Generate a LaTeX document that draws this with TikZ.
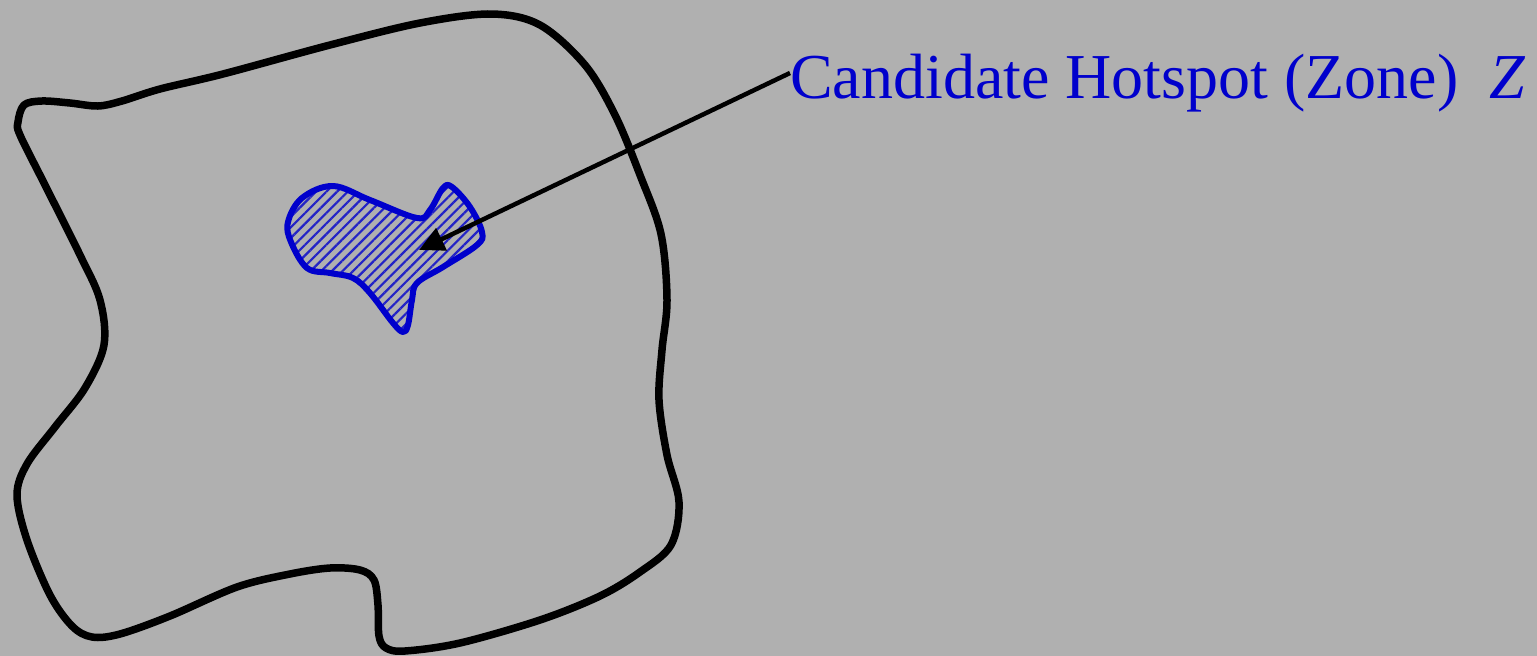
\documentclass[tikz,border=0pt]{standalone}
\usepackage{fontspec}
\setmainfont{Liberation Serif}
\usetikzlibrary{patterns.meta,arrows.meta}
\definecolor{bg}{RGB}{176,176,176}
\definecolor{zblue}{RGB}{0,0,204}
\tikzset{
  region/.style={line width=7.5pt, black, line join=round},
  zone/.style={line width=6pt, zblue, line join=round,
    pattern={Lines[angle=45,distance=7.5pt,line width=2.2pt]}, pattern color=zblue!80!bg},
  pointer/.style={line width=4.5pt, black, -{Triangle[length=25pt,width=24pt]}},
  label/.style={text=zblue, inner sep=0pt, font=\fontsize{64}{76}\selectfont}
}
\begin{document}
\begin{tikzpicture}[x=1pt,y=-1pt]
\fill[bg] (0,0) rectangle (1537,656);
\useasboundingbox (0,0) rectangle (1537,656);
% outer region
\draw[region] plot[smooth cycle, tension=0.55] coordinates {
 (18,122) (24,105) (42,101) (70,103) (98,106) (122,101) (160,89) (223,74) (330,45)
 (420,23) (491,14) (540,25) (585,65) (615,115) (640,175) (661,234) (667,300)
 (662,350) (659,400) (667,455) (679,502) (671,545) (640,572) (600,596) (540,620)
 (460,643) (405,651) (386,648) (379,636) (378,605) (374,580) (360,570) (330,568)
 (290,574) (237,587) (170,616) (120,634) (92,637) (72,626) (50,595) (27,540)
 (17,495) (27,464) (55,427) (85,388) (104,345) (100,300) (80,255) (45,185)
 (20,135)};
% hotspot zone
\draw[zone] plot[smooth cycle, tension=0.6] coordinates {
 (288,222) (302,198) (333,186) (370,200) (417,218) (430,210) (443,188)
 (452,187) (470,207) (482,232) (477,245) (443,267) (417,283) (412,300)
 (408,325) (403,332) (393,323) (370,293) (353,278) (330,273) (307,268)
 (291,242)};
\node[label, anchor=base west] (lbl) at (790,98) {Candidate Hotspot (Zone)\hspace{31pt}\textit{Z}};
\coordinate (tip) at (419,250);
\draw[pointer] (lbl.west |- 0,73) -- (tip);
\end{tikzpicture}
\end{document}
